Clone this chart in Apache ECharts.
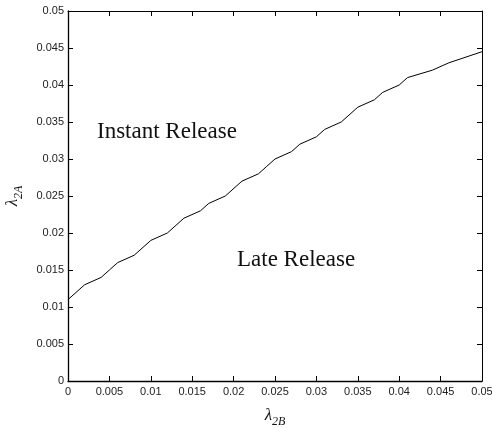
<!DOCTYPE html>
<html>
<head>
<meta charset="utf-8">
<script src="https://cdn.jsdelivr.net/npm/echarts@6/dist/echarts.min.js"></script>
<style>
html,body{margin:0;padding:0;background:#fff;}
#c{width:492px;height:428px;}
</style>
</head>
<body>
<div id="c"></div>
<script>
var lambda2B = [0, 0.002, 0.004, 0.005, 0.006, 0.008, 0.010, 0.012, 0.014, 0.016, 0.017, 0.019, 0.021, 0.023, 0.024, 0.025, 0.027, 0.028, 0.030, 0.031, 0.033, 0.035, 0.037, 0.038, 0.040, 0.041, 0.044, 0.046, 0.050];
var lambda2A = [0.011, 0.013, 0.014, 0.015, 0.016, 0.017, 0.019, 0.020, 0.022, 0.023, 0.024, 0.025, 0.027, 0.028, 0.029, 0.030, 0.031, 0.032, 0.033, 0.034, 0.035, 0.037, 0.038, 0.039, 0.040, 0.041, 0.042, 0.043, 0.0445];
var regionLabels = ['Instant Release', 'Late Release'];

var data = lambda2B.map(function (x, i) { return [x, lambda2A[i]]; });
var chart = echarts.init(document.getElementById('c'), null, {renderer: 'canvas'});
var tickFont = {fontFamily: 'Liberation Sans, Arial, sans-serif', fontSize: 11, color: '#222'};
var fmt = function (v) { return v === 0 ? '0' : String(+v.toFixed(3)); };
function axisBase(pos, width) {
  return {
    type: 'value', min: 0, max: 0.05, interval: 0.005, position: pos,
    splitLine: {show: false},
    axisLine: {show: true, onZero: false, lineStyle: {color: '#000', width: width}},
    axisTick: {show: true, inside: true, length: 5, lineStyle: {color: '#000', width: 1}}
  };
}
var nameRich = {
  l: {fontFamily: 'Liberation Serif, Times New Roman, serif', fontStyle: 'italic', fontSize: 17, color: '#111', verticalAlign: 'bottom'},
  s: {fontFamily: 'Liberation Serif, Times New Roman, serif', fontStyle: 'italic', fontSize: 12, color: '#111', verticalAlign: 'bottom', padding: [0, 0, -4, 0]}
};
var xBottom = axisBase('bottom', 1.3);
xBottom.axisLabel = Object.assign({margin: 5, formatter: fmt}, tickFont);
xBottom.name = '{l|λ}{s|2B}';
xBottom.nameLocation = 'middle';
xBottom.nameGap = 26;
xBottom.nameTextStyle = {rich: nameRich};
var xTop = axisBase('top', 1);
xTop.axisLabel = {show: false};
var yLeft = axisBase('left', 1.3);
yLeft.axisLabel = Object.assign({margin: 4, formatter: fmt}, tickFont);
yLeft.name = '{l|λ}{s|2A}';
yLeft.nameLocation = 'middle';
yLeft.nameGap = 47;
yLeft.nameTextStyle = {rich: nameRich};
var yRight = axisBase('right', 1);
yRight.axisLabel = {show: false};

var option = {
  animation: false,
  backgroundColor: '#fff',
  grid: {left: 68, right: 10, top: 11, bottom: 47, containLabel: false, outerBoundsMode: 'none'},
  xAxis: [xBottom, xTop],
  yAxis: [yLeft, yRight],
  series: [{
    type: 'line',
    data: data,
    xAxisIndex: 0, yAxisIndex: 0,
    showSymbol: false,
    symbol: 'none',
    lineStyle: {color: '#000', width: 1}
  }],
  graphic: [
    {type: 'text', left: 97, top: 120, style: {text: regionLabels[0], fontFamily: 'Liberation Serif, Times New Roman, serif', fontSize: 23, fill: '#111'}},
    {type: 'text', left: 237, top: 248, style: {text: regionLabels[1], fontFamily: 'Liberation Serif, Times New Roman, serif', fontSize: 23, fill: '#111'}}
  ]
};
chart.setOption(option);
</script>
</body>
</html>
